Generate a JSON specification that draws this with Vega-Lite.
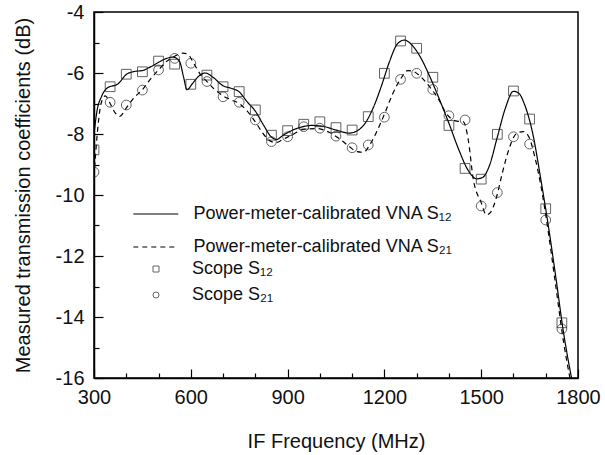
{
  "$schema": "https://vega.github.io/schema/vega-lite/v6.json",
  "width": 484,
  "height": 366,
  "autosize": {"type": "none"},
  "padding": {"left": 94, "top": 12, "right": 27, "bottom": 77},
  "background": "white",
  "config": {
    "view": {"stroke": "#000", "strokeWidth": 1.5},
    "font": "Liberation Sans",
    "axis": {"domainColor": "#000", "domainWidth": 1.5, "tickColor": "#000", "tickWidth": 1.2, "grid": false, "labelFont": "Liberation Sans", "titleFont": "Liberation Sans", "labelFontSize": 20, "titleFontSize": 20, "labelColor": "#111", "titleColor": "#111", "titleFontWeight": "normal"},
    "legend": {"labelFont": "Liberation Sans", "labelFontSize": 18, "labelColor": "#111", "padding": 0, "titlePadding": 0, "labelLimit": 0}
  },
  "datasets": {
    "curves": [
      {"f": 300, "v": -8.0, "s": "Power-meter-calibrated VNA S₁₂"},
      {"f": 310, "v": -7.2, "s": "Power-meter-calibrated VNA S₁₂"},
      {"f": 322, "v": -6.8, "s": "Power-meter-calibrated VNA S₁₂"},
      {"f": 340, "v": -6.5, "s": "Power-meter-calibrated VNA S₁₂"},
      {"f": 375, "v": -6.35, "s": "Power-meter-calibrated VNA S₁₂"},
      {"f": 400, "v": -6.05, "s": "Power-meter-calibrated VNA S₁₂"},
      {"f": 425, "v": -5.95, "s": "Power-meter-calibrated VNA S₁₂"},
      {"f": 450, "v": -5.92, "s": "Power-meter-calibrated VNA S₁₂"},
      {"f": 475, "v": -5.8, "s": "Power-meter-calibrated VNA S₁₂"},
      {"f": 500, "v": -5.65, "s": "Power-meter-calibrated VNA S₁₂"},
      {"f": 525, "v": -5.52, "s": "Power-meter-calibrated VNA S₁₂"},
      {"f": 545, "v": -5.48, "s": "Power-meter-calibrated VNA S₁₂"},
      {"f": 565, "v": -5.62, "s": "Power-meter-calibrated VNA S₁₂"},
      {"f": 578, "v": -6.15, "s": "Power-meter-calibrated VNA S₁₂"},
      {"f": 588, "v": -6.55, "s": "Power-meter-calibrated VNA S₁₂"},
      {"f": 605, "v": -6.35, "s": "Power-meter-calibrated VNA S₁₂"},
      {"f": 625, "v": -6.1, "s": "Power-meter-calibrated VNA S₁₂"},
      {"f": 645, "v": -6.0, "s": "Power-meter-calibrated VNA S₁₂"},
      {"f": 670, "v": -6.15, "s": "Power-meter-calibrated VNA S₁₂"},
      {"f": 700, "v": -6.42, "s": "Power-meter-calibrated VNA S₁₂"},
      {"f": 725, "v": -6.5, "s": "Power-meter-calibrated VNA S₁₂"},
      {"f": 750, "v": -6.62, "s": "Power-meter-calibrated VNA S₁₂"},
      {"f": 775, "v": -6.95, "s": "Power-meter-calibrated VNA S₁₂"},
      {"f": 800, "v": -7.25, "s": "Power-meter-calibrated VNA S₁₂"},
      {"f": 825, "v": -7.7, "s": "Power-meter-calibrated VNA S₁₂"},
      {"f": 850, "v": -8.1, "s": "Power-meter-calibrated VNA S₁₂"},
      {"f": 866, "v": -8.18, "s": "Power-meter-calibrated VNA S₁₂"},
      {"f": 885, "v": -8.05, "s": "Power-meter-calibrated VNA S₁₂"},
      {"f": 910, "v": -7.9, "s": "Power-meter-calibrated VNA S₁₂"},
      {"f": 940, "v": -7.78, "s": "Power-meter-calibrated VNA S₁₂"},
      {"f": 975, "v": -7.72, "s": "Power-meter-calibrated VNA S₁₂"},
      {"f": 1010, "v": -7.75, "s": "Power-meter-calibrated VNA S₁₂"},
      {"f": 1050, "v": -7.87, "s": "Power-meter-calibrated VNA S₁₂"},
      {"f": 1090, "v": -7.97, "s": "Power-meter-calibrated VNA S₁₂"},
      {"f": 1115, "v": -7.9, "s": "Power-meter-calibrated VNA S₁₂"},
      {"f": 1140, "v": -7.65, "s": "Power-meter-calibrated VNA S₁₂"},
      {"f": 1165, "v": -7.15, "s": "Power-meter-calibrated VNA S₁₂"},
      {"f": 1190, "v": -6.45, "s": "Power-meter-calibrated VNA S₁₂"},
      {"f": 1215, "v": -5.65, "s": "Power-meter-calibrated VNA S₁₂"},
      {"f": 1240, "v": -5.05, "s": "Power-meter-calibrated VNA S₁₂"},
      {"f": 1262, "v": -4.92, "s": "Power-meter-calibrated VNA S₁₂"},
      {"f": 1285, "v": -5.08, "s": "Power-meter-calibrated VNA S₁₂"},
      {"f": 1310, "v": -5.45, "s": "Power-meter-calibrated VNA S₁₂"},
      {"f": 1340, "v": -6.1, "s": "Power-meter-calibrated VNA S₁₂"},
      {"f": 1370, "v": -6.85, "s": "Power-meter-calibrated VNA S₁₂"},
      {"f": 1400, "v": -7.65, "s": "Power-meter-calibrated VNA S₁₂"},
      {"f": 1430, "v": -8.5, "s": "Power-meter-calibrated VNA S₁₂"},
      {"f": 1460, "v": -9.2, "s": "Power-meter-calibrated VNA S₁₂"},
      {"f": 1486, "v": -9.47, "s": "Power-meter-calibrated VNA S₁₂"},
      {"f": 1505, "v": -9.42, "s": "Power-meter-calibrated VNA S₁₂"},
      {"f": 1525, "v": -9.05, "s": "Power-meter-calibrated VNA S₁₂"},
      {"f": 1550, "v": -8.1, "s": "Power-meter-calibrated VNA S₁₂"},
      {"f": 1575, "v": -7.15, "s": "Power-meter-calibrated VNA S₁₂"},
      {"f": 1600, "v": -6.6, "s": "Power-meter-calibrated VNA S₁₂"},
      {"f": 1615, "v": -6.65, "s": "Power-meter-calibrated VNA S₁₂"},
      {"f": 1635, "v": -7.05, "s": "Power-meter-calibrated VNA S₁₂"},
      {"f": 1660, "v": -8.0, "s": "Power-meter-calibrated VNA S₁₂"},
      {"f": 1685, "v": -9.5, "s": "Power-meter-calibrated VNA S₁₂"},
      {"f": 1705, "v": -10.8, "s": "Power-meter-calibrated VNA S₁₂"},
      {"f": 1730, "v": -12.6, "s": "Power-meter-calibrated VNA S₁₂"},
      {"f": 1755, "v": -14.5, "s": "Power-meter-calibrated VNA S₁₂"},
      {"f": 1780, "v": -16.0, "s": "Power-meter-calibrated VNA S₁₂"},
      {"f": 300, "v": -9.4, "s": "Power-meter-calibrated VNA S₂₁"},
      {"f": 310, "v": -8.0, "s": "Power-meter-calibrated VNA S₂₁"},
      {"f": 322, "v": -7.0, "s": "Power-meter-calibrated VNA S₂₁"},
      {"f": 335, "v": -6.75, "s": "Power-meter-calibrated VNA S₂₁"},
      {"f": 350, "v": -7.0, "s": "Power-meter-calibrated VNA S₂₁"},
      {"f": 365, "v": -7.3, "s": "Power-meter-calibrated VNA S₂₁"},
      {"f": 380, "v": -7.42, "s": "Power-meter-calibrated VNA S₂₁"},
      {"f": 400, "v": -7.15, "s": "Power-meter-calibrated VNA S₂₁"},
      {"f": 425, "v": -6.8, "s": "Power-meter-calibrated VNA S₂₁"},
      {"f": 450, "v": -6.55, "s": "Power-meter-calibrated VNA S₂₁"},
      {"f": 475, "v": -6.2, "s": "Power-meter-calibrated VNA S₂₁"},
      {"f": 500, "v": -5.9, "s": "Power-meter-calibrated VNA S₂₁"},
      {"f": 525, "v": -5.62, "s": "Power-meter-calibrated VNA S₂₁"},
      {"f": 550, "v": -5.45, "s": "Power-meter-calibrated VNA S₂₁"},
      {"f": 575, "v": -5.35, "s": "Power-meter-calibrated VNA S₂₁"},
      {"f": 590, "v": -5.38, "s": "Power-meter-calibrated VNA S₂₁"},
      {"f": 610, "v": -5.7, "s": "Power-meter-calibrated VNA S₂₁"},
      {"f": 630, "v": -6.05, "s": "Power-meter-calibrated VNA S₂₁"},
      {"f": 650, "v": -6.28, "s": "Power-meter-calibrated VNA S₂₁"},
      {"f": 675, "v": -6.55, "s": "Power-meter-calibrated VNA S₂₁"},
      {"f": 700, "v": -6.75, "s": "Power-meter-calibrated VNA S₂₁"},
      {"f": 725, "v": -6.88, "s": "Power-meter-calibrated VNA S₂₁"},
      {"f": 750, "v": -7.0, "s": "Power-meter-calibrated VNA S₂₁"},
      {"f": 775, "v": -7.25, "s": "Power-meter-calibrated VNA S₂₁"},
      {"f": 800, "v": -7.6, "s": "Power-meter-calibrated VNA S₂₁"},
      {"f": 825, "v": -8.0, "s": "Power-meter-calibrated VNA S₂₁"},
      {"f": 850, "v": -8.25, "s": "Power-meter-calibrated VNA S₂₁"},
      {"f": 865, "v": -8.28, "s": "Power-meter-calibrated VNA S₂₁"},
      {"f": 885, "v": -8.18, "s": "Power-meter-calibrated VNA S₂₁"},
      {"f": 910, "v": -8.05, "s": "Power-meter-calibrated VNA S₂₁"},
      {"f": 950, "v": -7.85, "s": "Power-meter-calibrated VNA S₂₁"},
      {"f": 990, "v": -7.82, "s": "Power-meter-calibrated VNA S₂₁"},
      {"f": 1030, "v": -7.95, "s": "Power-meter-calibrated VNA S₂₁"},
      {"f": 1060, "v": -8.15, "s": "Power-meter-calibrated VNA S₂₁"},
      {"f": 1090, "v": -8.4, "s": "Power-meter-calibrated VNA S₂₁"},
      {"f": 1115, "v": -8.58, "s": "Power-meter-calibrated VNA S₂₁"},
      {"f": 1135, "v": -8.6, "s": "Power-meter-calibrated VNA S₂₁"},
      {"f": 1155, "v": -8.35, "s": "Power-meter-calibrated VNA S₂₁"},
      {"f": 1175, "v": -7.95, "s": "Power-meter-calibrated VNA S₂₁"},
      {"f": 1200, "v": -7.35, "s": "Power-meter-calibrated VNA S₂₁"},
      {"f": 1225, "v": -6.7, "s": "Power-meter-calibrated VNA S₂₁"},
      {"f": 1250, "v": -6.2, "s": "Power-meter-calibrated VNA S₂₁"},
      {"f": 1272, "v": -5.92, "s": "Power-meter-calibrated VNA S₂₁"},
      {"f": 1290, "v": -5.95, "s": "Power-meter-calibrated VNA S₂₁"},
      {"f": 1310, "v": -6.1, "s": "Power-meter-calibrated VNA S₂₁"},
      {"f": 1340, "v": -6.45, "s": "Power-meter-calibrated VNA S₂₁"},
      {"f": 1370, "v": -6.9, "s": "Power-meter-calibrated VNA S₂₁"},
      {"f": 1390, "v": -7.3, "s": "Power-meter-calibrated VNA S₂₁"},
      {"f": 1405, "v": -7.48, "s": "Power-meter-calibrated VNA S₂₁"},
      {"f": 1425, "v": -7.58, "s": "Power-meter-calibrated VNA S₂₁"},
      {"f": 1445, "v": -7.6, "s": "Power-meter-calibrated VNA S₂₁"},
      {"f": 1460, "v": -8.2, "s": "Power-meter-calibrated VNA S₂₁"},
      {"f": 1475, "v": -9.45, "s": "Power-meter-calibrated VNA S₂₁"},
      {"f": 1500, "v": -10.25, "s": "Power-meter-calibrated VNA S₂₁"},
      {"f": 1516, "v": -10.65, "s": "Power-meter-calibrated VNA S₂₁"},
      {"f": 1530, "v": -10.55, "s": "Power-meter-calibrated VNA S₂₁"},
      {"f": 1548, "v": -10.05, "s": "Power-meter-calibrated VNA S₂₁"},
      {"f": 1565, "v": -9.3, "s": "Power-meter-calibrated VNA S₂₁"},
      {"f": 1580, "v": -8.7, "s": "Power-meter-calibrated VNA S₂₁"},
      {"f": 1610, "v": -7.98, "s": "Power-meter-calibrated VNA S₂₁"},
      {"f": 1630, "v": -7.92, "s": "Power-meter-calibrated VNA S₂₁"},
      {"f": 1648, "v": -8.1, "s": "Power-meter-calibrated VNA S₂₁"},
      {"f": 1665, "v": -8.7, "s": "Power-meter-calibrated VNA S₂₁"},
      {"f": 1685, "v": -9.7, "s": "Power-meter-calibrated VNA S₂₁"},
      {"f": 1705, "v": -11.0, "s": "Power-meter-calibrated VNA S₂₁"},
      {"f": 1730, "v": -12.9, "s": "Power-meter-calibrated VNA S₂₁"},
      {"f": 1755, "v": -14.8, "s": "Power-meter-calibrated VNA S₂₁"},
      {"f": 1775, "v": -16.0, "s": "Power-meter-calibrated VNA S₂₁"}
    ],
    "scope": [
      {"f": 300, "v": -8.52, "s": "Scope S₁₂"},
      {"f": 350, "v": -6.45, "s": "Scope S₁₂"},
      {"f": 400, "v": -6.04, "s": "Scope S₁₂"},
      {"f": 450, "v": -5.96, "s": "Scope S₁₂"},
      {"f": 500, "v": -5.61, "s": "Scope S₁₂"},
      {"f": 550, "v": -5.71, "s": "Scope S₁₂"},
      {"f": 600, "v": -6.37, "s": "Scope S₁₂"},
      {"f": 650, "v": -6.07, "s": "Scope S₁₂"},
      {"f": 700, "v": -6.45, "s": "Scope S₁₂"},
      {"f": 750, "v": -6.61, "s": "Scope S₁₂"},
      {"f": 800, "v": -7.21, "s": "Scope S₁₂"},
      {"f": 850, "v": -8.04, "s": "Scope S₁₂"},
      {"f": 900, "v": -7.89, "s": "Scope S₁₂"},
      {"f": 950, "v": -7.68, "s": "Scope S₁₂"},
      {"f": 1000, "v": -7.6, "s": "Scope S₁₂"},
      {"f": 1050, "v": -7.79, "s": "Scope S₁₂"},
      {"f": 1100, "v": -7.87, "s": "Scope S₁₂"},
      {"f": 1150, "v": -7.43, "s": "Scope S₁₂"},
      {"f": 1200, "v": -6.01, "s": "Scope S₁₂"},
      {"f": 1250, "v": -4.95, "s": "Scope S₁₂"},
      {"f": 1300, "v": -5.19, "s": "Scope S₁₂"},
      {"f": 1350, "v": -6.14, "s": "Scope S₁₂"},
      {"f": 1400, "v": -7.72, "s": "Scope S₁₂"},
      {"f": 1450, "v": -9.13, "s": "Scope S₁₂"},
      {"f": 1500, "v": -9.48, "s": "Scope S₁₂"},
      {"f": 1550, "v": -8.01, "s": "Scope S₁₂"},
      {"f": 1600, "v": -6.59, "s": "Scope S₁₂"},
      {"f": 1650, "v": -7.51, "s": "Scope S₁₂"},
      {"f": 1700, "v": -10.45, "s": "Scope S₁₂"},
      {"f": 1750, "v": -14.19, "s": "Scope S₁₂"},
      {"f": 300, "v": -9.25, "s": "Scope S₂₁"},
      {"f": 350, "v": -6.96, "s": "Scope S₂₁"},
      {"f": 400, "v": -7.05, "s": "Scope S₂₁"},
      {"f": 450, "v": -6.56, "s": "Scope S₂₁"},
      {"f": 500, "v": -5.9, "s": "Scope S₂₁"},
      {"f": 550, "v": -5.52, "s": "Scope S₂₁"},
      {"f": 600, "v": -5.68, "s": "Scope S₂₁"},
      {"f": 650, "v": -6.28, "s": "Scope S₂₁"},
      {"f": 700, "v": -6.78, "s": "Scope S₂₁"},
      {"f": 750, "v": -6.96, "s": "Scope S₂₁"},
      {"f": 800, "v": -7.54, "s": "Scope S₂₁"},
      {"f": 850, "v": -8.25, "s": "Scope S₂₁"},
      {"f": 900, "v": -8.09, "s": "Scope S₂₁"},
      {"f": 950, "v": -7.76, "s": "Scope S₂₁"},
      {"f": 1000, "v": -7.81, "s": "Scope S₂₁"},
      {"f": 1050, "v": -8.07, "s": "Scope S₂₁"},
      {"f": 1100, "v": -8.45, "s": "Scope S₂₁"},
      {"f": 1150, "v": -8.36, "s": "Scope S₂₁"},
      {"f": 1200, "v": -7.45, "s": "Scope S₂₁"},
      {"f": 1250, "v": -6.21, "s": "Scope S₂₁"},
      {"f": 1300, "v": -6.01, "s": "Scope S₂₁"},
      {"f": 1350, "v": -6.54, "s": "Scope S₂₁"},
      {"f": 1400, "v": -7.4, "s": "Scope S₂₁"},
      {"f": 1450, "v": -7.54, "s": "Scope S₂₁"},
      {"f": 1500, "v": -10.36, "s": "Scope S₂₁"},
      {"f": 1550, "v": -9.92, "s": "Scope S₂₁"},
      {"f": 1600, "v": -8.09, "s": "Scope S₂₁"},
      {"f": 1650, "v": -8.33, "s": "Scope S₂₁"},
      {"f": 1700, "v": -10.82, "s": "Scope S₂₁"},
      {"f": 1750, "v": -14.39, "s": "Scope S₂₁"}
    ]
  },
  "encoding": {
    "x": {
      "field": "f", "type": "quantitative",
      "scale": {"domain": [300, 1800], "nice": false, "zero": false},
      "axis": {
        "title": "IF Frequency (MHz)",
        "values": [300, 400, 500, 600, 700, 800, 900, 1000, 1100, 1200, 1300, 1400, 1500, 1600, 1700, 1800],
        "labelExpr": "datum.value % 300 === 0 ? toString(datum.value) : ''",
        "tickSize": {"condition": {"test": "datum.value % 300 === 0", "value": -9}, "value": -5},
        "labelPadding": 18,
        "labelFlush": false,
        "labelOverlap": false,
        "titlePadding": 20
      }
    },
    "y": {
      "field": "v", "type": "quantitative",
      "scale": {"domain": [-16, -4], "nice": false, "zero": false},
      "axis": {
        "title": "Measured transmission coefficients (dB)",
        "values": [-16, -15, -14, -13, -12, -11, -10, -9, -8, -7, -6, -5, -4],
        "labelExpr": "datum.value % 2 === 0 ? toString(datum.value) : ''",
        "tickSize": {"condition": {"test": "datum.value % 2 === 0", "value": -9}, "value": -5},
        "labelPadding": 19,
        "labelFlush": false,
        "labelOverlap": false,
        "titlePadding": 22
      }
    }
  },
  "layer": [
    {
      "data": {"name": "curves"},
      "mark": {"type": "line", "interpolate": "monotone", "color": "#000", "strokeWidth": 1.2, "clip": true},
      "encoding": {
        "detail": {"field": "s"},
        "strokeDash": {
          "field": "s", "type": "nominal",
          "scale": {"domain": ["Power-meter-calibrated VNA S₁₂", "Power-meter-calibrated VNA S₂₁"], "range": [[1, 0], [5, 4]]},
          "legend": {"title": null, "orient": "none", "legendX": 38.3, "legendY": 178.5, "symbolType": "stroke", "symbolSize": 2025, "symbolStrokeWidth": 1.2, "symbolStrokeColor": "#000", "labelOffset": 14.3, "rowPadding": 0}
        }
      }
    },
    {
      "data": {"name": "scope"},
      "mark": {"type": "point", "filled": false, "size": 95, "color": "#222", "strokeWidth": 1, "clip": true},
      "encoding": {
        "shape": {
          "field": "s", "type": "nominal",
          "scale": {"domain": ["Scope S₁₂", "Scope S₂₁"], "range": ["square", "circle"]},
          "legend": {"title": null, "orient": "none", "legendX": 53, "legendY": 248, "symbolSize": 36, "symbolStrokeWidth": 1, "symbolStrokeColor": "#222", "symbolFillColor": "transparent", "labelOffset": 27, "rowPadding": 8}
        }
      }
    }
  ]
}
